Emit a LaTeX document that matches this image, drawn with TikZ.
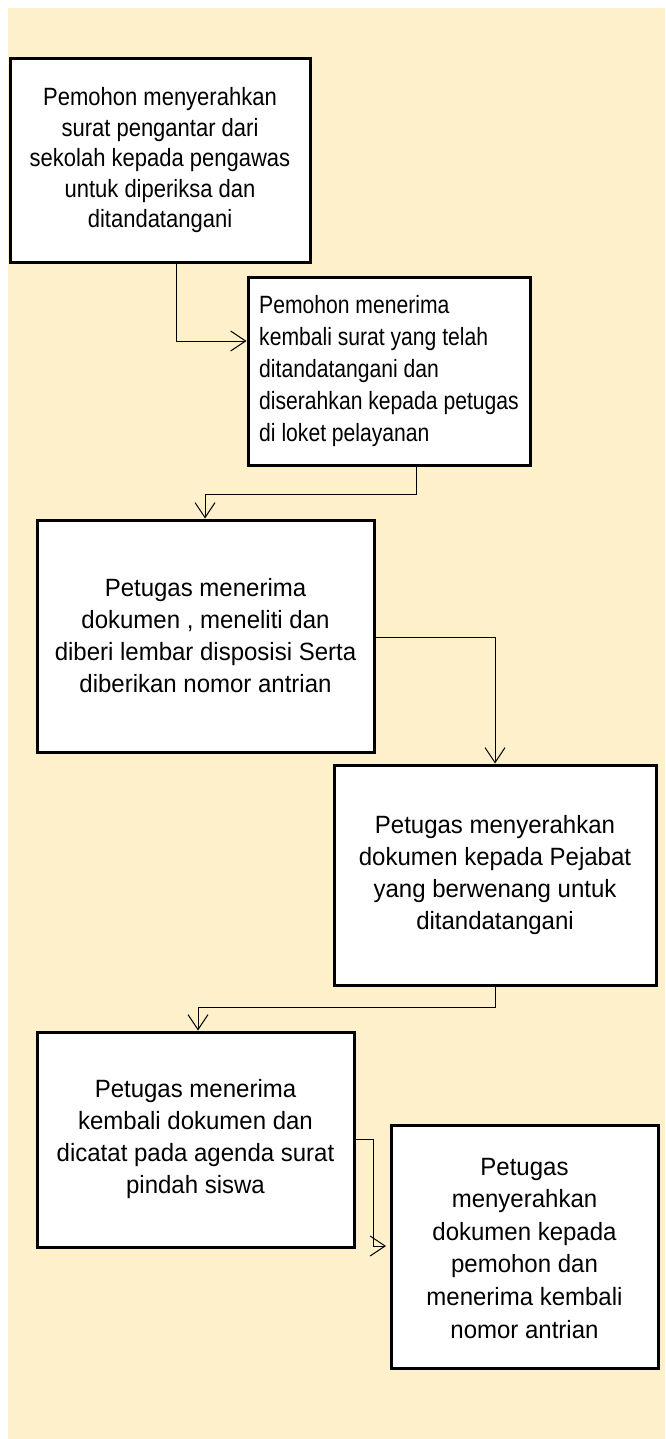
\documentclass[tikz,border=0pt]{standalone}
\usepackage{fontspec}
\setmainfont{Liberation Sans}[FakeStretch=0.96]
\newfontfamily\narrowA{Liberation Sans}[FakeStretch=0.88]
\newfontfamily\narrowB{Liberation Sans}[FakeStretch=0.845]
\usetikzlibrary{arrows.meta}
\definecolor{bgc}{RGB}{255,240,204}
\begin{document}
\begin{tikzpicture}[x=1pt,y=-1pt,
  box/.style={draw=black, line width=3pt, fill=white, inner sep=0pt, align=center,
    font=\fontsize{25pt}{32pt}\selectfont},
  smallbox/.style={box, font=\narrowA\fontsize{25pt}{30.5pt}\selectfont},
  leftbox/.style={box, align=left, font=\narrowB\fontsize{25pt}{32pt}\selectfont},
  conn/.style={draw=black, line width=1pt, -{Straight Barb[length=15pt,width=20pt,line width=1pt]}}
]
\useasboundingbox (0,0) rectangle (665,1439);
\fill[bgc] (8,8) rectangle (665,1439);

\node[smallbox, minimum width=300pt, minimum height=203pt] (b1) at (160,160.5)
  {Pemohon menyerahkan\\surat pengantar dari\\sekolah kepada pengawas\\untuk diperiksa dan\\ditandatangani};
\node[leftbox, minimum width=282pt, minimum height=188pt] (b2) at (389,371)
  {Pemohon menerima\\kembali surat yang telah\\ditandatangani dan\\diserahkan kepada petugas\\di loket pelayanan};
\node[box, minimum width=337pt, minimum height=232pt] (b3) at (205.5,636)
  {Petugas menerima\\dokumen , meneliti dan\\diberi lembar disposisi Serta\\diberikan nomor antrian};
\node[box, minimum width=322pt, minimum height=220pt] (b4) at (495,875)
  {Petugas menyerahkan\\dokumen kepada Pejabat\\yang berwenang untuk\\ditandatangani};
\node[box, minimum width=317pt, minimum height=215pt] (b5) at (195.5,1139.5)
  {Petugas menerima\\kembali dokumen dan\\dicatat pada agenda surat\\pindah siswa};
\node[box, font=\fontsize{25pt}{32.6pt}\selectfont, minimum width=267pt, minimum height=243pt] (b6) at (524.5,1246.5)
  {\rule{0pt}{10pt}\\[-22pt]Petugas\\menyerahkan\\dokumen kepada\\pemohon dan\\menerima kembali\\nomor antrian};

\coordinate (e5) at (386,1246);

\draw[conn] (b1.south -| 176,0) |- (b2.west |- 0,341);
\draw[conn] (b2.south -| 416,0) -- (416,494) -| (b3.north -| 205,0);
\draw[conn] (b3.east |- 0,637) -| (b4.north -| 495,0);
\draw[conn] (b4.south -| 495,0) -- (495,1007) -| (b5.north -| 198,0);
\draw[conn] (b5.east |- 0,1139) -| (373,1246) -- (e5);
\end{tikzpicture}
\end{document}
